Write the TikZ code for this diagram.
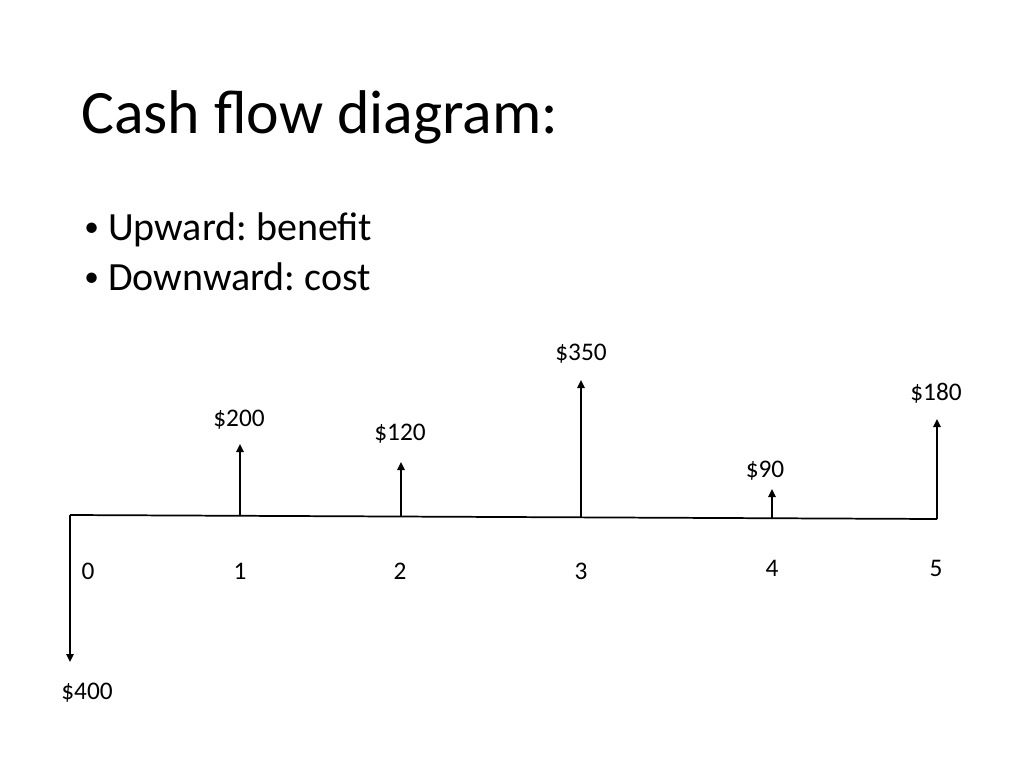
\documentclass[tikz,border=0pt]{standalone}
\usepackage{fontspec}
\setmainfont{Carlito}
\usetikzlibrary{arrows.meta}
\frenchspacing
\begin{document}
\begin{tikzpicture}[x=0.75pt,y=-0.75pt,
  flow/.style={line width=1.3pt,-{Triangle[width=5.5pt,length=6pt]}},
  axisline/.style={line width=1.3pt},
  amount/.style={font=\fontsize{19}{22}\selectfont,inner sep=0pt,anchor=base},
  period/.style={font=\fontsize{19}{22}\selectfont,inner sep=0pt,anchor=base},
  bullettext/.style={font=\fontsize{30}{36}\selectfont,inner sep=0pt,anchor=base west},
  bulletmark/.style={font=\fontsize{22}{26}\selectfont,inner sep=0pt,anchor=base west}]
\useasboundingbox (0,0) rectangle (1024,768);
% title and bullets
\node[font=\fontsize{46.3}{56}\selectfont,inner sep=0pt,anchor=base west] (title) at (81,133) {Cash flow diagram:};
\node[bulletmark] (m1) at (84,236) {•};
\node[bullettext] (b1) at (108,240) {Upward: benefit};
\node[bulletmark] (m2) at (84,286) {•};
\node[bullettext] (b2) at (108,290) {Downward: cost};
% axis points
\coordinate (t0) at (70,515);
\coordinate (t1) at (240,515.8);
\coordinate (t2) at (401,516.5);
\coordinate (t3) at (581,517.4);
\coordinate (t4) at (772,518.2);
\coordinate (t5) at (937,519);
\draw[axisline] (t0) -- (t5);
% arrow ends
\coordinate (e0) at (70,662);
\coordinate (e1) at (240,444);
\coordinate (e2) at (401,462);
\coordinate (e3) at (581,380);
\coordinate (e4) at (772,489);
\coordinate (e5) at (937,419);
\draw[flow] (t0) -- (e0);
\draw[flow] (t1) -- (e1);
\draw[flow] (t2) -- (e2);
\draw[flow] (t3) -- (e3);
\draw[flow] (t4) -- (e4);
\draw[flow] (t5) -- (e5);
% amounts
\node[amount] (a0) at (87,699) {\$400};
\node[amount] (a1) at (239,426) {\$200};
\node[amount] (a2) at (400,440) {\$120};
\node[amount] (a3) at (581,360) {\$350};
\node[amount] (a4) at (765,477) {\$90};
\node[amount] (a5) at (936,400) {\$180};
% periods
\node[period] (p0) at (88,579) {0};
\node[period] (p1) at (240,579) {1};
\node[period] (p2) at (400,579) {2};
\node[period] (p3) at (581,579) {3};
\node[period] (p4) at (772,576) {4};
\node[period] (p5) at (936,576) {5};
\end{tikzpicture}
\end{document}
